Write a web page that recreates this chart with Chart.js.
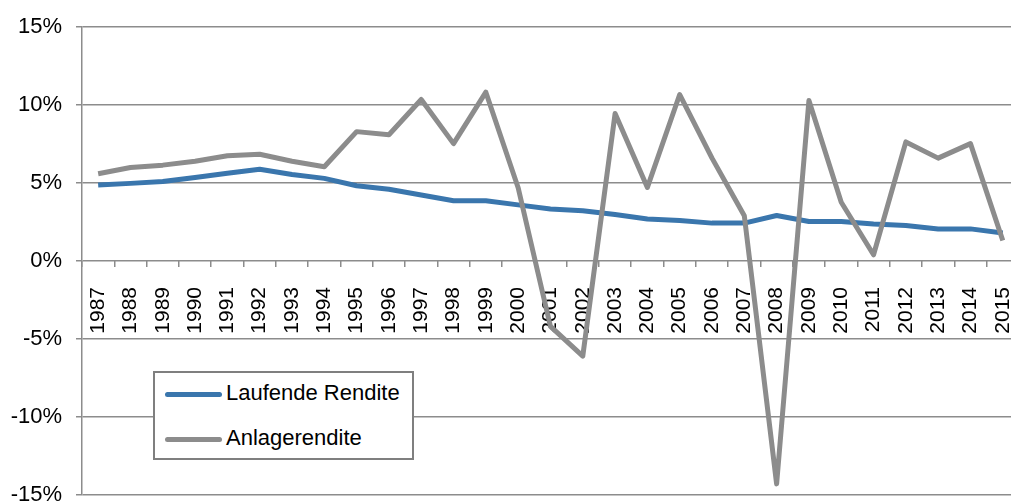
<!DOCTYPE html>
<html>
<head>
<meta charset="utf-8">
<script src="https://cdn.jsdelivr.net/npm/chart.js@4/dist/chart.umd.min.js"></script>
<style>
  html, body { margin: 0; padding: 0; background: #fff; overflow: hidden; }
  #wrap { position: relative; width: 1048px; height: 522px; }
  #legend {
    position: absolute; left: 153px; top: 371px; width: 257px; height: 85px;
    border: 2px solid #7f7f7f; background: #fff;
    font-family: 'Liberation Sans', Arial, sans-serif; font-size: 22px; color: #000;
  }
  .item { position: absolute; left: 10px; height: 24px; line-height: 24px; white-space: nowrap; }
  .swatch { display: inline-block; width: 57px; height: 5px; border-radius: 3px; vertical-align: middle; margin-right: 4px; }
</style>
</head>
<body>
<div id="wrap">
  <canvas id="rendite_chart" width="1048" height="522"></canvas>
  <div id="legend"></div>
</div>
<script>
const years = ['1987','1988','1989','1990','1991','1992','1993','1994','1995','1996','1997','1998','1999','2000',
               '2001','2002','2003','2004','2005','2006','2007','2008','2009','2010','2011','2012','2013','2014','2015'];
const laufende_rendite = [4.87, 4.98, 5.1, 5.36, 5.63, 5.89, 5.55, 5.3, 4.83, 4.6, 4.23, 3.87, 3.87, 3.6,
                          3.34, 3.23, 2.98, 2.7, 2.6, 2.43, 2.43, 2.92, 2.53, 2.53, 2.38, 2.28, 2.06, 2.06, 1.8];
const anlagerendite = [5.6, 6.0, 6.15, 6.4, 6.75, 6.85, 6.4, 6.05, 8.3, 8.1, 10.36, 7.53, 10.83, 4.7,
                       -4.2, -6.1, 9.46, 4.72, 10.68, 6.6, 2.9, -14.3, 10.3, 3.77, 0.4, 7.64, 6.6, 7.53, 1.32];
const y_min = -15, y_max = 15, y_step = 5;

const font = { family: "'Liberation Sans', Arial, sans-serif", size: 22 };

const ctx = document.getElementById('rendite_chart').getContext('2d');
const rendite_chart = new Chart(ctx, {
    type: 'line',
    data: {
        labels: years,
        datasets: [
            {
                label: 'Laufende Rendite',
                data: laufende_rendite,
                borderColor: '#3a76ad',
                borderWidth: 5,
                pointRadius: 0,
                tension: 0,
                borderJoinStyle: 'round',
                order: 1
            },
            {
                label: 'Anlagerendite',
                data: anlagerendite,
                borderColor: '#8c8c8c',
                borderWidth: 5,
                pointRadius: 0,
                tension: 0,
                borderJoinStyle: 'round',
                order: 0
            }
        ]
    },
    options: {
        responsive: false,
        animation: false,
        layout: { padding: { top: 12, bottom: 4, left: 0, right: 1 } },
        plugins: {
            legend: { display: false },
            tooltip: { enabled: false }
        },
        scales: {
            x: {
                position: { y: 0 },
                offset: true,
                grid: {
                    offset: true,
                    drawOnChartArea: false,
                    drawTicks: true,
                    tickLength: 6,
                    color: '#8c8c8c',
                    lineWidth: 1.5
                },
                border: { display: false },
                ticks: {
                    autoSkip: false,
                    minRotation: 90,
                    maxRotation: 90,
                    padding: 20,
                    color: '#000',
                    font: { family: font.family, size: 21 }
                }
            },
            y: {
                min: y_min,
                max: y_max,
                afterFit: function(scale) { scale.width = 82; },
                grid: {
                    color: '#8c8c8c',
                    lineWidth: 1.5,
                    tickLength: 6
                },
                border: { color: '#8c8c8c', width: 1.5 },
                ticks: {
                    stepSize: y_step,
                    padding: 14,
                    color: '#000',
                    font: font,
                    callback: v => v + '%'
                }
            }
        }
    }
});

// legend inside the plot, built from the datasets
var legend = document.getElementById('legend');
rendite_chart.data.datasets.forEach(function(ds, i) {
    var item = document.createElement('div');
    item.className = 'item';
    item.style.top = (8 + i * 45) + 'px';
    item.innerHTML = '<span class="swatch" style="background:' + ds.borderColor + '"></span>' + ds.label;
    legend.appendChild(item);
});
</script>
</body>
</html>
